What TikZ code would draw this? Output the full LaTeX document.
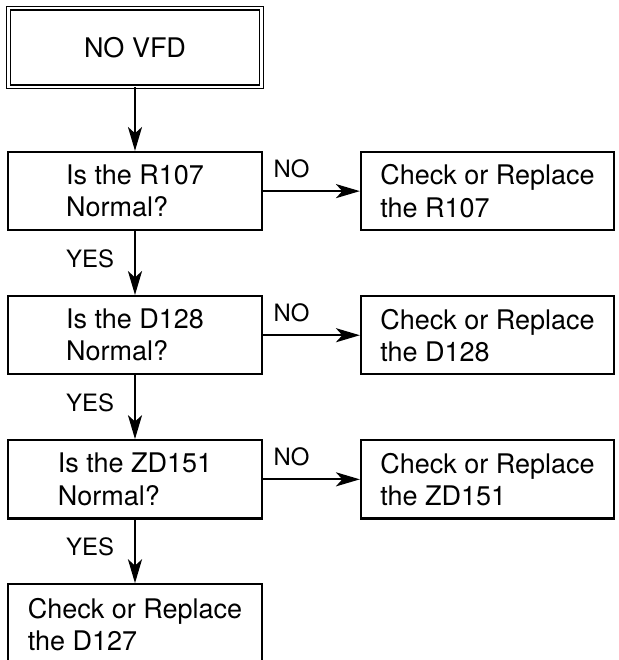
\documentclass[tikz,border=0pt]{standalone}
\usepackage{fontspec}
\setmainfont{TeX Gyre Heros}
\usetikzlibrary{positioning,arrows.meta}
\newcommand{\boxFont}[0]{\fontsize{19.2}{22.8}\selectfont}
\newcommand{\answerFont}[0]{\fontsize{17}{20}\selectfont}

\begin{document}
\begin{tikzpicture}[node distance=1.59cm and 2.43cm, line width=1.5pt,
    >={Stealth[length=17pt,width=10pt,inset=4.5pt]}]
  \tikzset{every node/.style={font=\boxFont},
    stepbox/.style={draw, minimum width=6.33cm, minimum height=1.96cm, align=left},
    answer/.style={font=\answerFont, inner sep=0pt}}
  \useasboundingbox (-3.375,1.1875) rectangle (12.1,-15.3125);
  \node[stepbox, double, double distance=1.6pt, line width=0.8pt](START){NO VFD};
  \node[stepbox, below=of START](Q-1){Is the R107\\Normal?};
  \node[stepbox, right=of Q-1](FIX-1){Check or Replace\\the R107};
  \node[stepbox, below=of Q-1](Q-2){Is the D128\\Normal?};
  \node[stepbox, right=of Q-2](FIX-2){Check or Replace\\the D128};
  \node[stepbox, below=of Q-2](Q-3){Is the ZD151\\Normal?};
  \node[stepbox, right=of Q-3](FIX-3){Check or Replace\\the ZD151};
  \node[stepbox, below=of Q-3, minimum height=2.02cm](FIX-4){Check or Replace\\the D127};
  \draw[->] (START) -- (Q-1);
  \draw[->] (Q-1) -- node[answer, pos=0, above right=0.3cm and 0.25cm]{NO} (FIX-1);
  \draw[->] (Q-1) -- node[answer, pos=0.43, left=0.5cm]{YES} (Q-2);
  \draw[->] (Q-2) -- node[answer, pos=0, above right=0.3cm and 0.25cm]{NO} (FIX-2);
  \draw[->] (Q-2) -- node[answer, pos=0.43, left=0.5cm]{YES} (Q-3);
  \draw[->] (Q-3) -- node[answer, pos=0, above right=0.3cm and 0.25cm]{NO} (FIX-3);
  \draw[->] (Q-3) -- node[answer, pos=0.43, left=0.5cm]{YES} (FIX-4);
\end{tikzpicture}
\end{document}
